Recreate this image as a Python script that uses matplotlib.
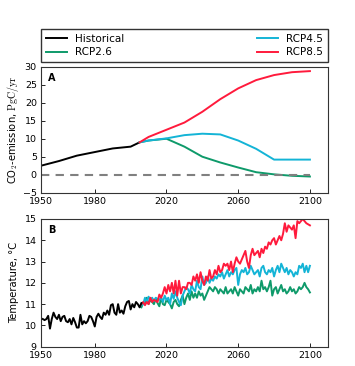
import numpy as np
import matplotlib
matplotlib.use("Agg")
import matplotlib.pyplot as plt

plt.rcParams["font.family"] = ["DejaVu Sans"]
plt.rcParams["mathtext.fontset"] = "cm"

# ---- panel A: CO2 emission (PgC/yr) ----
hist_em_years = [1950, 1960, 1970, 1980, 1990, 2000, 2005]
hist_em = [2.5, 3.8, 5.3, 6.3, 7.3, 7.8, 9.0]

rcp_em_years = [2005, 2010, 2020, 2030, 2040, 2050, 2060, 2070, 2080, 2090, 2100]
rcp26_em = [9.0, 9.5, 10.0, 7.8, 5.0, 3.4, 2.0, 0.7, 0.1, -0.3, -0.5]
rcp45_em = [9.0, 9.5, 10.1, 11.0, 11.4, 11.2, 9.5, 7.2, 4.2, 4.2, 4.2]
rcp85_em = [9.0, 10.5, 12.5, 14.5, 17.5, 21.0, 24.0, 26.3, 27.7, 28.5, 28.8]

# ---- panel B: temperature (deg C) ----
hist_t_years = list(range(1951, 2007))
hist_t = [
    10.3, 10.25, 10.3, 10.45, 9.85, 10.3, 10.6, 10.4, 10.3, 10.5,
    10.2, 10.4, 10.45, 10.2, 10.15, 10.3, 10.05, 10.35, 10.15, 9.9,
    9.9, 10.5, 10.05, 10.2, 10.1, 10.2, 10.45, 10.4, 10.2, 9.95,
    10.4, 10.55, 10.4, 10.3, 10.6, 10.5, 10.7, 10.5, 10.95, 11.0,
    10.6, 10.5, 11.0, 10.6, 10.7, 10.55, 10.9, 11.1, 11.15, 10.75,
    11.0, 10.85, 11.1, 11.0, 10.85, 11.05,
]

rcp_t_years = list(range(2006, 2101))
rcp85_t = [
    11.0, 11.1, 10.95, 11.1, 11.0, 11.3, 11.1, 11.2, 11.15, 11.1,
    11.45, 11.3, 11.5, 11.8, 11.5, 11.9, 11.6, 12.0, 11.5, 12.1,
    11.4, 12.1, 11.5, 11.8, 11.8, 11.7, 12.0, 12.0, 11.9, 12.3,
    12.1, 12.4, 12.0, 12.5, 12.1, 11.9, 12.3, 12.1, 12.6, 12.2,
    12.3, 12.6, 12.4, 12.8, 12.5, 12.6, 12.9, 12.8, 12.9, 12.6,
    13.0, 12.5, 12.9, 13.2, 13.0, 12.9, 13.1, 13.3, 13.5, 13.0,
    12.7, 13.3, 13.6, 13.3, 13.4, 13.5, 13.2, 13.6, 13.4, 13.7,
    13.6, 13.9, 13.8, 14.0, 14.1, 13.8, 14.0, 14.2, 14.0, 14.3,
    14.8, 14.4, 14.7, 14.6, 14.5, 14.7, 14.1, 14.9, 14.8, 14.9,
    15.0, 14.9, 14.8, 14.75, 14.7,
]
rcp45_t = [
    10.95, 11.0, 11.3, 11.1, 11.35, 11.2, 11.3, 11.15, 11.3, 11.25,
    11.2, 11.3, 11.1, 11.4, 11.2, 11.3, 11.0, 11.5, 11.25, 11.6,
    11.3, 11.1, 10.95, 11.4, 11.6, 11.8, 11.7, 11.5, 11.9, 11.7,
    11.6, 12.1, 11.8, 11.7, 12.3, 11.9, 12.0, 12.3, 12.0, 12.2,
    12.1, 12.3, 12.2, 12.4, 12.3, 12.5, 12.2, 12.4, 12.6, 12.3,
    12.5, 12.4, 12.6, 12.7, 11.9, 12.4, 12.6, 12.5, 12.7, 12.4,
    12.5, 12.8, 12.6, 12.4, 12.5, 12.6, 12.3, 12.7, 12.8, 12.5,
    12.4, 12.6, 12.5, 12.7, 12.3, 12.6, 12.8, 12.5, 12.9, 12.7,
    12.5, 12.7, 12.4, 12.6, 12.5, 12.3, 12.5, 12.4, 12.8, 12.7,
    12.9, 12.5, 12.8, 12.5, 12.8,
]
rcp26_t = [
    10.85, 11.05, 11.0, 11.3, 11.0, 11.2, 11.1, 11.0, 11.25, 11.05,
    10.9, 11.3, 11.0, 10.95, 11.2, 11.1, 11.0, 10.8, 11.1, 11.2,
    11.0, 10.9, 11.2, 11.4, 11.0, 11.3, 11.5, 11.2, 11.6, 11.3,
    11.5, 11.3, 11.6, 11.4, 11.5, 11.2, 11.4, 11.6, 11.8, 11.7,
    11.6, 11.8, 11.7, 11.5, 11.7, 11.6, 11.5, 11.8, 11.5, 11.6,
    11.7, 11.5, 11.8, 11.6, 11.4, 11.7, 11.6, 11.5, 11.8, 11.7,
    11.6, 11.9, 11.5, 11.7, 11.6, 11.8, 11.6, 12.1, 11.7, 11.8,
    11.6, 11.8, 12.1, 11.4, 11.7, 11.8, 11.5, 11.7, 11.9, 11.6,
    11.7, 11.5, 11.6, 11.8, 11.6, 11.7, 11.5, 11.6, 11.8, 11.7,
    11.8, 12.0, 11.8, 11.7, 11.55,
]

c_hist = "black"
c_26 = "#0e9a6a"
c_45 = "#14b4d6"
c_85 = "#ff1a3c"

xticks = [1950, 1980, 2020, 2060, 2100]

fig = plt.figure(figsize=(3.55, 3.66), dpi=100)
ax1 = fig.add_axes([0.1155, 0.4735, 0.808, 0.344])
ax2 = fig.add_axes([0.1155, 0.0527, 0.808, 0.349])

lw = 1.4
ax1.plot(hist_em_years, hist_em, color=c_hist, lw=lw, label="Historical")
ax1.plot(rcp_em_years, rcp26_em, color=c_26, lw=lw, label="RCP2.6")
ax1.plot(rcp_em_years, rcp45_em, color=c_45, lw=lw, label="RCP4.5")
ax1.plot(rcp_em_years, rcp85_em, color=c_85, lw=lw, label="RCP8.5")
ax1.plot([1950, 2100], [0, 0], color="gray", lw=1.5, ls=(0, (4, 3)))
ax1.set_ylim(-5, 30)
ax1.set_yticks([-5, 0, 5, 10, 15, 20, 25, 30])
ax1.set_ylabel(r"CO$_2$-emission, $\mathrm{PgC/yr}$", fontsize=7.2, labelpad=1)
ax1.text(0.025, 0.95, "A", transform=ax1.transAxes, fontsize=7,
         fontweight="bold", va="top", ha="left")

ax2.plot(hist_t_years, hist_t, color=c_hist, lw=lw, zorder=4)
ax2.plot(rcp_t_years, rcp26_t, color=c_26, lw=lw)
ax2.plot(rcp_t_years, rcp45_t, color=c_45, lw=lw)
ax2.plot(rcp_t_years, rcp85_t, color=c_85, lw=lw)
ax2.set_ylim(9, 15)
ax2.set_yticks([9, 10, 11, 12, 13, 14, 15])
ax2.set_ylabel("Temperature, °C", fontsize=7.2, labelpad=4)
ax2.text(0.025, 0.95, "B", transform=ax2.transAxes, fontsize=7,
         fontweight="bold", va="top", ha="left")

for ax in (ax1, ax2):
    ax.set_xlim(1950, 2110)
    ax.set_xticks(xticks)
    ax.tick_params(direction="in", labelsize=6.8, length=3, width=0.6,
                   top=False, right=False, pad=3)
    for s in ax.spines.values():
        s.set_linewidth(0.8)
        s.set_color("#333333")

fig.legend(loc="lower left", bbox_to_anchor=(0.1155, 0.8306, 0.808, 0.0956),
           mode="expand", ncol=2, fontsize=7.5, frameon=True, fancybox=False,
           edgecolor="black", handlelength=2, borderaxespad=0,
           borderpad=0.45, labelspacing=0.35)

fig.savefig("out.png", dpi=100)
